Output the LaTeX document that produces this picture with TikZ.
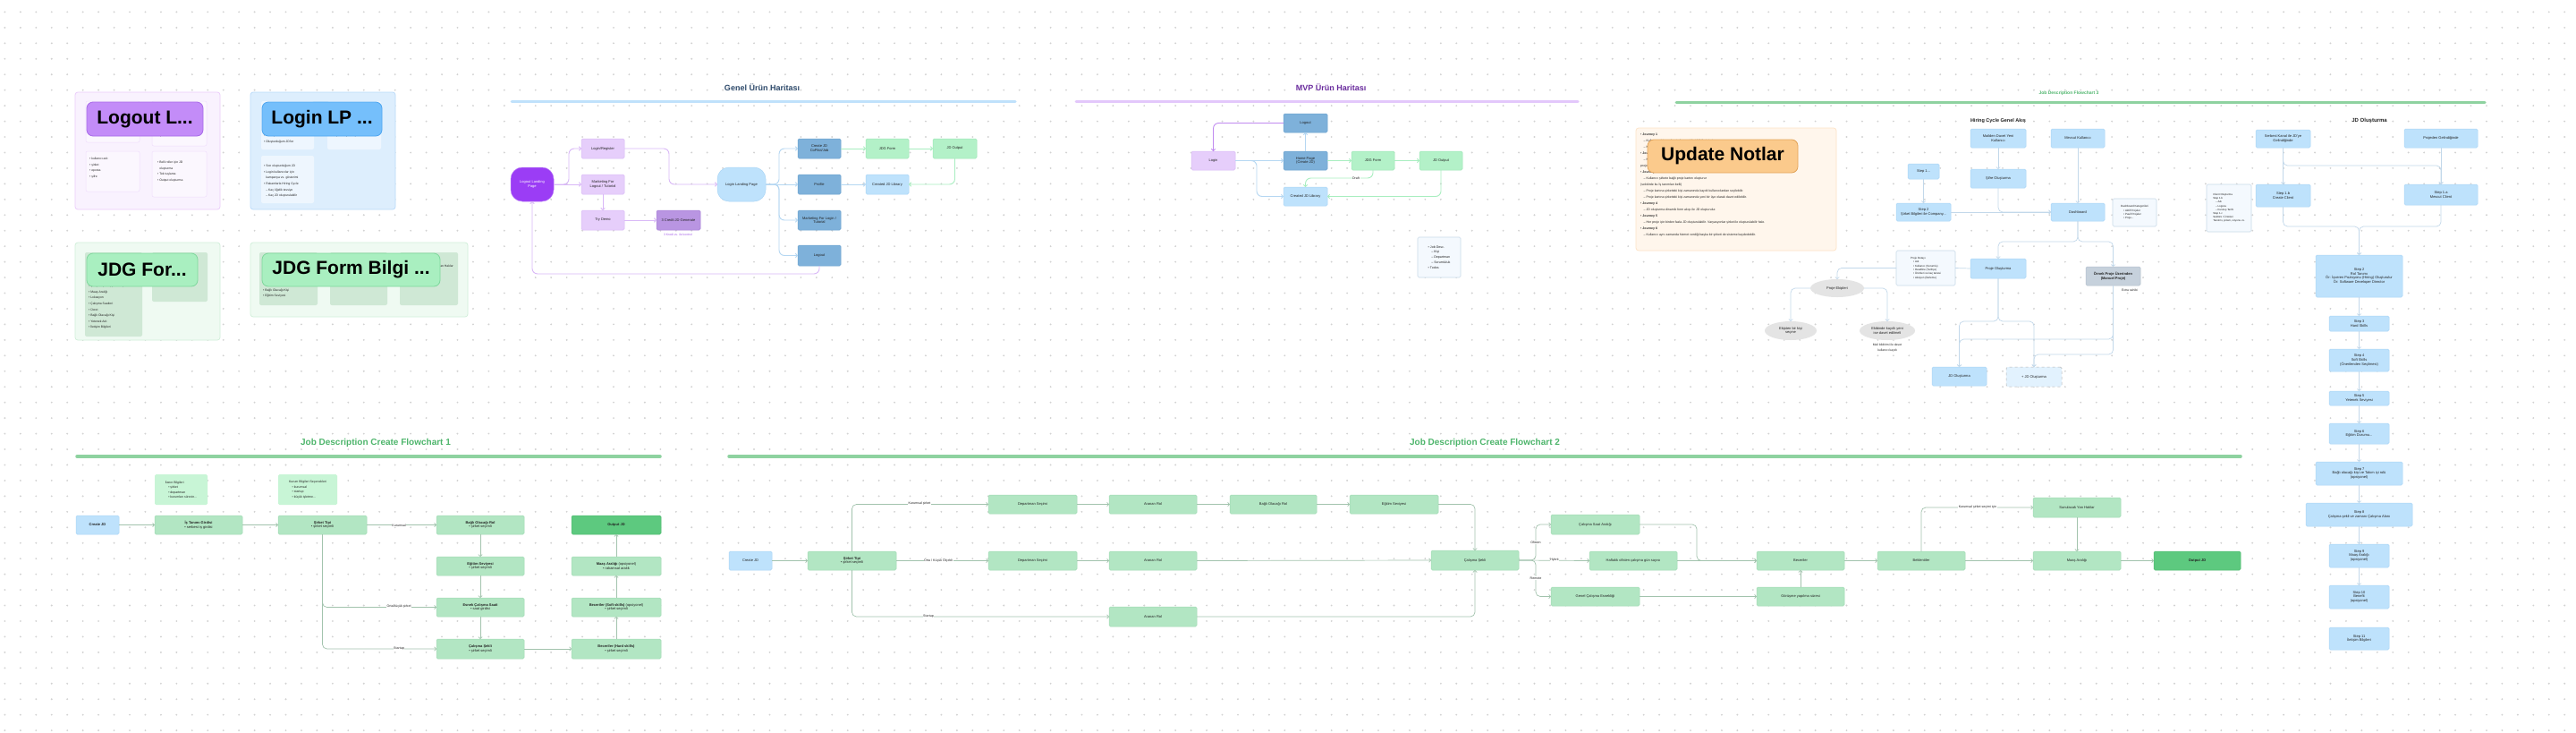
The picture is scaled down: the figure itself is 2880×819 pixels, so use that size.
\documentclass[tikz,border=0pt]{standalone}
\usepackage{fontspec}
\setmainfont{Liberation Sans}
\usetikzlibrary{arrows.meta,shapes.geometric}
\definecolor{dotc}{HTML}{D2D2D2}
\definecolor{gfill}{HTML}{B2E6C3}
\definecolor{gdraw}{HTML}{A0DAB3}
\definecolor{ofill}{HTML}{5DC97F}
\definecolor{odraw}{HTML}{4CB86E}
\definecolor{bfill}{HTML}{BEE2FC}
\definecolor{bdraw}{HTML}{A9D5F6}
\definecolor{sfill}{HTML}{7EB1DA}
\definecolor{sdraw}{HTML}{6AA1CE}
\definecolor{pfill}{HTML}{E6CEFB}
\definecolor{pdraw}{HTML}{D8BAF6}
\definecolor{dpfill}{HTML}{B995E2}
\definecolor{dpdraw}{HTML}{A67ED6}
\definecolor{vpfill}{HTML}{9B3DF5}
\definecolor{vpdraw}{HTML}{B77AF7}
\definecolor{mfill}{HTML}{B3F1C8}
\definecolor{mdraw}{HTML}{9CE6B5}
\definecolor{nfill}{HTML}{F4F9FE}
\definecolor{ndraw}{HTML}{C9DAE8}
\definecolor{gnfill}{HTML}{C8F5D6}
\definecolor{grfill}{HTML}{C6D1DC}
\definecolor{grdraw}{HTML}{B1BECB}
\definecolor{elfill}{HTML}{E4E4E4}
\definecolor{cpfill}{HTML}{F9F2FE}
\definecolor{cpdraw}{HTML}{EBCBFB}
\definecolor{cbfill}{HTML}{DDEEFD}
\definecolor{cbdraw}{HTML}{B9DBFA}
\definecolor{cgfill}{HTML}{EFFAF2}
\definecolor{cgdraw}{HTML}{D0EFD9}
\definecolor{ipfill}{HTML}{FBF7FE}
\definecolor{ipdraw}{HTML}{F0DEFC}
\definecolor{ibfill}{HTML}{EEF6FE}
\definecolor{igfill}{HTML}{CFE8D5}
\definecolor{lpfill}{HTML}{C38CF8}
\definecolor{lpdraw}{HTML}{A86BE8}
\definecolor{lbfill}{HTML}{75BFFB}
\definecolor{lbdraw}{HTML}{4FA6F0}
\definecolor{lgfill}{HTML}{A9EFC0}
\definecolor{lgdraw}{HTML}{7FD79C}
\definecolor{ucfill}{HTML}{FFF6EC}
\definecolor{ucdraw}{HTML}{FDE3C6}
\definecolor{ulfill}{HTML}{FBCA8C}
\definecolor{uldraw}{HTML}{E2A45A}
\definecolor{tblue}{HTML}{2E4A6B}
\definecolor{tpurp}{HTML}{6A2C9E}
\definecolor{tgreen}{HTML}{4DB56B}
\definecolor{lgreen}{HTML}{8ED2A0}
\definecolor{lblue}{HTML}{BFE1FB}
\definecolor{lpurp}{HTML}{E3C7FB}
\definecolor{colG}{HTML}{A2C3AD}
\definecolor{colB}{HTML}{C2D8EA}
\definecolor{colBl}{HTML}{B5D7F2}
\definecolor{colP}{HTML}{D9B8F7}
\definecolor{colPP}{HTML}{C08AF0}
\definecolor{colM}{HTML}{A8EEC0}
\definecolor{ptxt}{HTML}{A259E8}
\definecolor{txt}{HTML}{222222}
\newcommand\nbox[7]{%
  \pgfmathsetmacro\nbw{(#5)-(#3)}%
  \pgfmathsetmacro\nbh{(#6)-(#4)}%
  \node[#2,minimum width=\nbw pt,minimum height=\nbh pt] (#1) at ({((#3)+(#5))/2},{((#4)+(#6))/2}) {#7};}
\begin{document}
\begin{tikzpicture}[x=1pt,y=-1pt,
  nbase/.style={inner sep=0.5pt,outer sep=0pt,align=center,text=txt,font=\fontsize{4}{4.8}\selectfont,rounded corners=1.5pt,line width=0.5pt},
  gbox/.style={nbase,fill=gfill,draw=gdraw},
  obox/.style={nbase,fill=ofill,draw=odraw,font=\fontsize{4}{4.8}\selectfont\bfseries},
  bbox/.style={nbase,fill=bfill,draw=bdraw},
  sbox/.style={nbase,fill=sfill,draw=sdraw},
  pbox/.style={nbase,fill=pfill,draw=pdraw},
  dpbox/.style={nbase,fill=dpfill,draw=dpdraw},
  vpbox/.style={nbase,fill=vpfill,draw=vpdraw,text=white,rounded corners=13pt},
  lbbox/.style={nbase,fill=bfill,draw=bdraw,rounded corners=13pt},
  mintbox/.style={nbase,fill=mfill,draw=mdraw},
  nbx/.style={nbase,fill=nfill,draw=ndraw,align=left,font=\fontsize{3}{4.3}\selectfont,line width=0.6pt},
  gnbx/.style={nbase,fill=gnfill,draw=none,align=left,font=\fontsize{3.5}{5.6}\selectfont},
  grbox/.style={nbase,fill=grfill,draw=grdraw,font=\fontsize{4}{4.8}\selectfont\bfseries},
  ell/.style={nbase,ellipse,fill=elfill,draw=none},
  dbox/.style={nbase,fill=bfill!45,draw=gray!60,dashed},
  card/.style={inner sep=0pt,rounded corners=3pt,line width=0.7pt},
  innerbox/.style={inner sep=0pt,rounded corners=2pt,line width=0.5pt},
  biglab/.style={rounded corners=7pt,line width=0.8pt,inner sep=0pt,text=black,font=\fontsize{21}{24}\selectfont\bfseries},
  lst/.style={inner sep=0pt,align=left,text=txt,font=\fontsize{3.4}{6.6}\selectfont},
  ttl/.style={inner sep=0pt,font=\fontsize{10}{12}\selectfont\bfseries},
  elab/.style={inner sep=0.6pt,fill=white,text=txt,font=\fontsize{3.6}{4.2}\selectfont},
  arr/.style={-{Straight Barb[length=2pt,width=4.5pt]}},
  cnG/.style={draw=colG,line width=0.7pt,rounded corners=5pt,arr},
  cnB/.style={draw=colB,line width=0.7pt,rounded corners=5pt,arr},
  cnBl/.style={draw=colBl,line width=0.9pt,rounded corners=6pt,arr},
  cnP/.style={draw=colP,line width=0.9pt,rounded corners=6pt,arr},
  cnPP/.style={draw=colPP,line width=0.9pt,rounded corners=6pt,arr},
  cnM/.style={draw=colM,line width=0.9pt,rounded corners=6pt,arr},
]
\useasboundingbox (0,0) rectangle (2880,819);
\fill[white] (0,0) rectangle (2880,819);
\foreach \i in {0,...,164}{\fill[dotc] \foreach \j in {0,...,46}{(5.4+17.45*\i,13.4+17.45*\j) circle[radius=1.05pt]};}

% ---------------- top-left cards ----------------
\nbox{cLO}{card,fill=cpfill,draw=cpdraw}{84}{103}{246}{234}{}
\nbox{lo1}{innerbox,fill=ipfill,draw=ipdraw}{96}{113}{156}{159}{}
\nbox{lo2}{innerbox,fill=ipfill,draw=ipdraw}{170}{113}{231}{163}{}
\nbox{lo3}{innerbox,fill=ipfill,draw=ipdraw}{96}{169}{156}{214}{}
\nbox{lo4}{innerbox,fill=ipfill,draw=ipdraw}{170}{169}{231}{220}{}
\node[lst,anchor=north west] (lo2t) at (176,150) {• Şirketlerde};
\node[lst,anchor=north west] (lo3t) at (100,176) {• kullanıcı adı\\• şirket\\• eposta\\• şifre};
\node[lst,anchor=north west] (lo4t) at (176,180) {• Belli roller için JD\\\phantom{• }oluşturma\\• Tek tuşlama\\• Output oluşturma};
\nbox{loL}{biglab,fill=lpfill,draw=lpdraw}{97}{114}{227}{152}{Logout L...}

\nbox{cLI}{card,fill=cbfill,draw=cbdraw}{280}{103}{442}{234}{}
\nbox{li1}{innerbox,fill=ibfill,draw=none}{292}{113}{351}{167}{}
\nbox{li2}{innerbox,fill=ibfill,draw=none}{366}{113}{426}{167}{}
\nbox{li3}{innerbox,fill=ibfill,draw=none}{292}{174}{351}{227}{}
\node[lst,anchor=north west] (li1t) at (295,150) {• Yeni işlem ekle\\• Oluşturduğum JD'ler};
\node[lst,anchor=north west] (li2t) at (371,150) {Müşteri hayat başlama};
\node[lst,anchor=north west] (li3t) at (295,184) {• Son oluşturduğum JD\\• Login kullanıcılar için\\\phantom{• }kampanya vs. gösterimi\\• Rakamlarla Hiring Cycle\\\phantom{• }– Kaç öğelik tavsiye\\\phantom{• }– Kaç JD oluşturulabilir};
\nbox{liL}{biglab,fill=lbfill,draw=lbdraw}{293}{114}{427}{152}{Login LP ...}

\nbox{cJF}{card,fill=cgfill,draw=cgdraw}{84}{271}{246}{380}{}
\nbox{jf1}{innerbox,fill=igfill,draw=none}{95}{282}{159}{376}{}
\nbox{jf2}{innerbox,fill=igfill,draw=none}{170}{282}{232}{337}{}
\node[lst,anchor=north west] (jf1t) at (99,318) {• Çalışma Şekli (iş tanımı)\\• Maaş Aralığı\\• Lokasyon\\• Çalışma Saatleri\\• Ücret\\• Bağlı Olacağı Kişi\\• Yetenek Adı\\• İletişim Bilgileri};
\nbox{jfL}{biglab,fill=lgfill,draw=lgdraw}{97}{283}{221}{320}{JDG For...}

\nbox{cJB}{card,fill=cgfill,draw=cgdraw}{280}{271}{523}{354}{}
\nbox{jb1}{innerbox,fill=igfill,draw=none}{290}{282}{355}{341}{}
\nbox{jb2}{innerbox,fill=igfill,draw=none}{369}{282}{433}{341}{}
\nbox{jb3}{innerbox,fill=igfill,draw=none}{447}{282}{512}{341}{}
\node[lst,anchor=north west] (jb1t) at (294,316) {• Yetenek Adı\\• Bağlı Olacağı Kişi\\• Eğitim Seviyesi};
\node[lst,anchor=north east] (jb3t) at (507,296) {• Yan Haklar};
\nbox{jbL}{biglab,fill=lgfill,draw=lgdraw}{293}{283}{492}{320}{JDG Form Bilgi ...}

% ---------------- Genel Urun Haritasi ----------------
\node[ttl,text=tblue,font=\fontsize{9}{11}\selectfont\bfseries] (gT) at (852,98) {Genel Ürün Haritası};
\draw[lblue,line width=3pt,line cap=round] (572,113) -- (1135,113);
\nbox{gLLP}{vpbox}{571}{187}{619}{225}{Logout Landing\\Page}
\nbox{gLR}{pbox}{650}{155}{698}{177}{Login/Register}
\nbox{gMK}{pbox}{650}{195}{698}{217}{Marketing For\\Logout / Tutorial}
\nbox{gTD}{pbox}{650}{235}{698}{257}{Try Demo}
\nbox{gCR}{dpbox}{734}{235}{783}{257}{3 Credit JD Generate}
\node[inner sep=0pt,text=ptxt,font=\fontsize{3.4}{4}\selectfont] (gCRn) at (758,262) {3 Kredi vs. ile kontrol};
\nbox{gLIP}{lbbox}{802}{187}{856}{225}{Login Landing Page}
\nbox{gCJ}{sbox}{892}{155}{940}{177}{Create JD\\CoPilot/Job}
\nbox{gPR}{sbox}{892}{195}{940}{217}{Profile}
\nbox{gML}{sbox}{892}{235}{940}{257}{Marketing For Login /\\Tutorial}
\nbox{gLO}{sbox}{892}{274}{940}{297}{Logout}
\nbox{gJF}{mintbox}{968}{155}{1016}{177}{JDG Form}
\nbox{gJO}{mintbox}{1043}{155}{1092}{177}{JD Output}
\nbox{gLib}{bbox}{968}{195}{1016}{217}{Created JD Library}
\draw[cnP] (gLLP.east) -- ++(17,0) |- (gLR.west);
\draw[cnP] (gLLP.east) -- (gMK.west);
\draw[cnP] (gMK.south) -- (gTD.north);
\draw[cnP] (gTD.east) -- (gCR.west);
\draw[cnP] (gLR.east) -- ++(50,0) |- (gLIP.west);
\draw[cnBl] (gLIP.east) -- ++(15,0) |- (gCJ.west);
\draw[cnBl] (gLIP.east) -- (gPR.west);
\draw[cnBl] (gLIP.east) -- ++(15,0) |- (gML.west);
\draw[cnBl] (gLIP.east) -- ++(15,0) |- (gLO.west);
\draw[cnM] (gCJ.east) -- (gJF.west);
\draw[cnM] (gJF.east) -- (gJO.west);
\draw[cnM] (gJO.south) |- (gLib.east);
\draw[cnBl] (gPR.east) -- (gLib.west);
\draw[cnP] (gLO.south) -- ++(0,9) -| (gLLP.south);

% ---------------- MVP ----------------
\node[ttl,text=tpurp,font=\fontsize{9}{11}\selectfont\bfseries] (mT) at (1488,98) {MVP Ürün Haritası};
\draw[lpurp,line width=3pt,line cap=round] (1203,113) -- (1764,113);
\nbox{mLO}{sbox}{1435}{127}{1484}{148}{Logout}
\nbox{mLI}{pbox}{1332}{169}{1381}{190}{Login}
\nbox{mHP}{sbox}{1435}{169}{1484}{190}{Home Page\\(Create JD)}
\nbox{mJF}{mintbox}{1511}{169}{1559}{190}{JDG Form}
\nbox{mJO}{mintbox}{1587}{169}{1635}{190}{JD Output}
\nbox{mLib}{bbox}{1435}{209}{1484}{230}{Created JD Library}
\nbox{mN}{nbx,font=\fontsize{3.6}{5.8}\selectfont}{1585}{265}{1633}{310}{• Job Desc.\\\quad – Kişi\\\quad – Departman\\\quad – Sorumluluk\\• Todos}
\draw[cnPP] (mLO.west) -| (mLI.north);
\draw[cnBl] (mHP.north) -- (mLO.south);
\draw[cnBl] (mLI.east) -- (mHP.west);
\draw[cnBl] (mLI.east) -- ++(24,0) |- (mLib.west);
\draw[cnM] (mHP.east) -- (mJF.west);
\draw[cnM] (mJF.east) -- (mJO.west);
\draw[cnM] (mJF.south) -- ++(0,9) -| (mLib.north);
\draw[cnM] (mJO.south) |- (mLib.east);
\node[elab] (mDraft) at (1516,199) {Draft};

% ---------------- Flowchart 3 header & Update notes ----------------
\node[ttl,text=tgreen,font=\fontsize{5}{6}\selectfont\bfseries] (f3T) at (2313,104) {Job Description Flowchart 3};
\draw[lgreen,line width=3pt,line cap=round] (1874,114) -- (2778,114);
\nbox{uC}{card,fill=ucfill,draw=ucdraw}{1829}{143}{2053}{280}{}
\node[inner sep=0pt,anchor=north west,align=left,text=txt,font=\fontsize{3.5}{7}\selectfont] (uT) at (1834,149) {%
• \textbf{Journey 1}\\
\quad – Kullanıcı sisteme kayıt olur ve şirket bilgilerini girer.\\
\quad – Kullanıcı sistemi deneme amaçlı kullanabilir.\\
• \textbf{Journey 2}\\
\quad – Kullanıcı şirketini kaydederken hem kendini hem şirketini tanımlar; hem de\\
proje kartını oluşturabilir.\\
• \textbf{Journey 3}\\
\quad – Kullanıcı şirkete bağlı proje kartını oluşturur\\
(sektörde bu İş tanımları belli)\\
\quad – Proje kartına şirketteki kişi zamanında kayıtlı kullanıcılardan seçilebilir.\\
\quad – Proje kartına şirketteki kişi zamanında yeni bir üye olarak davet edilebilir.\\
• \textbf{Journey 4}\\
\quad – JD oluşturma dinamik form akışı ile JD oluşturulur.\\
• \textbf{Journey 5}\\
\quad – Her proje için birden fazla JD oluşturulabilir. Varyasyonlar şirket ile oluşturulabilir hale.\\
• \textbf{Journey 6}\\
\quad – Kullanıcı aynı zamanda hizmet verdiği başka bir şirketi de sisteme kaydedebilir.};
\nbox{uL}{biglab,fill=ulfill,draw=uldraw}{1842}{156}{2010}{193}{Update Notlar}

% ---------------- Hiring Cycle ----------------
\node[ttl,text=txt,font=\fontsize{5.5}{6.5}\selectfont\bfseries] (hT) at (2234,135) {Hiring Cycle Genel Akış};
\nbox{hMD}{bbox}{2203}{144}{2265}{165}{Mailden Davet Yeni\\Kullanıcı}
\nbox{hMK}{bbox}{2293}{144}{2353}{165}{Mevcut Kullanıcı}
\nbox{hS1}{bbox}{2133}{183}{2168}{200}{Step 1...}
\nbox{hSO}{bbox}{2203}{189}{2265}{210}{Şifre Oluşturma}
\nbox{hS2}{bbox}{2120}{227}{2181}{247}{Step 2\\Şirket Bilgileri ile Company...}
\nbox{hDB}{bbox}{2293}{227}{2353}{247}{Dashboard}
\nbox{hDK}{nbx}{2362}{222}{2411}{253}{Dashboard Kategorileri\\\quad• Aktif Projeler\\\quad• Pasif Projeler\\\quad• Proje...}
\nbox{hPD}{nbx}{2120}{280}{2186}{319}{Proje Detayı\\\quad• Adı\\\quad• Kullanıcı (Sorumlu)\\\quad• Deadline (Tarihçe)\\\quad• Ürünleri ve kaç tanesi\\\quad• Aksiyon (İlerleme)}
\nbox{hPO}{bbox}{2203}{289}{2265}{311}{Proje Oluşturma}
\nbox{hOP}{grbox}{2332}{298}{2393}{319}{Örnek Proje Üzerinden\\(Manuel Proje)}
\node[inner sep=0pt,text=txt,font=\fontsize{3.4}{4}\selectfont] (hOPn) at (2381,324) {Extra sahibi};
\nbox{hPE}{ell}{2024}{312}{2084}{332}{Proje Ekipleri}
\nbox{hE1}{ell}{1973}{359}{2031}{380}{Ekipten bir kişi\\seçme}
\nbox{hE2}{ell}{2079}{359}{2141}{380}{Ekibinde kayıtlı yeni\\ise davet edilmeli}
\node[inner sep=0pt,align=center,text=txt,font=\fontsize{3.4}{6}\selectfont] (hE2n) at (2110,389) {Mail bildirimi ile davet\\kullanıcı kaydı};
\nbox{hJD}{bbox}{2160}{410}{2221}{431}{JD Oluşturma}
\nbox{hJP}{dbox}{2243}{410}{2305}{432}{+ JD Oluşturma}
\draw[cnB] (hMD.south) -- (hSO.north);
\draw[cnB] (hS1.south) -- (hS2.north);
\draw[cnB] (hS2.east) -- (hDB.west);
\draw[cnB] (hSO.south) |- (hDB.west);
\draw[cnB] (hMK.south) -- (hDB.north);
\draw[cnB] (hDB.south) -- ++(0,23) -| (hPO.north);
\draw[cnB] (hDB.south) -- ++(0,23) -| (hOP.north);
\draw[draw=colB,line width=0.7pt] (hPD.east) -- (hPO.west);
\draw[cnB] (hPD.west) -| (hPE.north);
\draw[cnB] (hPE.west) -| (hE1.north);
\draw[cnB] (hPE.east) -| (hE2.north);
\draw[cnB] (hPO.south) -- ++(0,48) -| (hJD.north);
\draw[cnB] (hPO.south) -- ++(0,48) -| (hJP.north);
\draw[cnB] (hOP.south) -- ++(0,60) -| (hJD.north);
\draw[cnB] (hOP.south) -- ++(0,77) -| (hJP.north);

% ---------------- JD Olusturma ----------------
\node[ttl,text=txt,font=\fontsize{6}{7}\selectfont\bfseries] (jT) at (2649,135) {JD Oluşturma};
\nbox{jSK}{bbox}{2522}{145}{2583}{165}{Serbest Kanal ile JD'ye\\Gelindiğinde}
\nbox{jPG}{bbox}{2688}{144}{2770}{165}{Projeden Gelindiğinde}
\nbox{jS1b}{bbox}{2522}{206}{2583}{231}{Step 1.b\\Create Client}
\nbox{jS1a}{bbox}{2688}{206}{2770}{229}{Step 1.a\\Mevcut Client}
\nbox{jCO}{nbx,font=\fontsize{2.9}{4.2}\selectfont}{2467}{206}{2517}{259}{Client Oluşturma\\Step 1.b\\\quad – Adı\\\quad – Logosu\\\quad – Kuruluş Tarihi\\Step 1.c\\Sektörü / Ürünleri\\Tanıtımı, şirketi, vizyonu vs.}
\nbox{jS2}{bbox}{2589}{285}{2686}{332}{Step 2\\Rol Tanımı\\Ör: İşveren Pozisyonu (Hiring) Oluşturulur\\Ör: Software Developer Director}
\nbox{jS3}{bbox}{2604}{353}{2671}{370}{Step 3\\Hard Skills}
\nbox{jS4}{bbox}{2604}{390}{2671}{415}{Step 4\\Soft Skills\\(Önerilenden Seçilmesi)}
\nbox{jS5}{bbox}{2604}{437}{2671}{453}{Step 5\\Yetenek Seviyesi}
\nbox{jS6}{bbox}{2604}{473}{2671}{496}{Step 6\\Eğitim Durumu...}
\nbox{jS7}{bbox}{2589}{516}{2686}{542}{Step 7\\Bağlı olacağı kişi ve Takım içi rolü\\(opsiyonel)}
\nbox{jS8}{bbox}{2578}{562}{2697}{588}{Step 8\\Çalışma şekli ve zamanı Çalışma Alanı}
\nbox{jS9}{bbox}{2604}{608}{2671}{634}{Step 9\\Maaş Aralığı\\(opsiyonel)}
\nbox{jS10}{bbox}{2604}{654}{2671}{680}{Step 10\\Benefit\\(opsiyonel)}
\nbox{jS11}{bbox}{2604}{701}{2671}{726}{Step 11\\İletişim Bilgileri}
\draw[cnB] (jSK.south) -- (jS1b.north);
\draw[cnB] (jSK.south) -- ++(0,20) -| (jS1a.north);
\draw[cnB] (jPG.south) -- (jS1a.north);
\draw[cnB] (jS1b.south) -- ++(0,22) -| (jS2.north);
\draw[cnB] (jS1a.south) -- ++(0,24) -| (jS2.north);
\draw[cnB] (jS2.south) -- (jS3.north);
\draw[cnB] (jS3.south) -- (jS4.north);
\draw[cnB] (jS4.south) -- (jS5.north);
\draw[cnB] (jS5.south) -- (jS6.north);
\draw[cnB] (jS6.south) -- (jS7.north);
\draw[cnB] (jS7.south) -- (jS8.north);
\draw[cnB] (jS8.south) -- (jS9.north);
\draw[cnB] (jS9.south) -- (jS10.north);

% ---------------- Flowchart 1 ----------------
\node[ttl,text=tgreen] (f1T) at (420,495) {Job Description Create Flowchart 1};
\draw[lgreen,line width=3.5pt,line cap=round] (86,510) -- (738,510);
\nbox{f1N1}{gnbx}{173}{530}{232}{564}{İlanın Bilgileri\\\quad• şirket\\\quad• departman\\\quad• kurumları sürecin...}
\nbox{f1N2}{gnbx}{311}{530}{377}{564}{Kurum Bilgileri Seçenekleri\\\quad• kurumsal\\\quad• startup\\\quad• küçük işletme...}
\nbox{f1CJ}{bbox,font=\fontsize{4}{4.8}\selectfont\bfseries}{85}{576}{133}{597}{Create JD}
\nbox{f1IT}{gbox}{173}{576}{271}{597}{\textbf{İş Tanımı Girdisi}\\• serbest iş girdisi}
\nbox{f1ST}{gbox}{311}{576}{410}{597}{\textbf{Şirket Tipi}\\• şirket seçimli}
\nbox{f1BR}{gbox}{488}{576}{586}{597}{\textbf{Bağlı Olacağı Rol}\\• şirket seçimli}
\nbox{f1ES}{gbox}{488}{622}{586}{643}{\textbf{Eğitim Seviyesi}\\• şirket seçimli}
\nbox{f1CS}{gbox}{488}{668}{586}{689}{\textbf{Esnek Çalışma Saati}\\• saat girdisi}
\nbox{f1CW}{gbox}{488}{714}{586}{736}{\textbf{Çalışma Şekli}\\• şirket seçimli}
\nbox{f1OJ}{obox}{639}{576}{739}{597}{Output JD}
\nbox{f1MA}{gbox}{639}{622}{739}{643}{\textbf{Maaş Aralığı} (opsiyonel)\\• rakamsal aralık}
\nbox{f1SS}{gbox}{639}{668}{739}{689}{\textbf{Beceriler (Soft skills)} (opsiyonel)\\• şirket seçimli}
\nbox{f1HS}{gbox}{639}{714}{739}{736}{\textbf{Beceriler (Hard skills)}\\• şirket seçimli}
\draw[cnG] (f1CJ.east) -- (f1IT.west);
\draw[cnG] (f1IT.east) -- (f1ST.west);
\draw[cnG] (f1ST.east) -- (f1BR.west);
\draw[cnG] (f1ST.south) |- (f1CS.west);
\draw[cnG] (f1ST.south) |- (f1CW.west);
\draw[cnG] (f1BR.south) -- (f1ES.north);
\draw[cnG] (f1ES.south) -- (f1CS.north);
\draw[cnG] (f1CS.south) -- (f1CW.north);
\draw[cnG] (f1CW.east) -- (f1HS.west);
\draw[cnG] (f1HS.north) -- (f1SS.south);
\draw[cnG] (f1SS.north) -- (f1MA.south);
\draw[cnG] (f1MA.north) -- (f1OJ.south);
\node[elab] (f1L1) at (446,587) {Kurumsal};
\node[elab] (f1L2) at (446,678) {Orta/küçük şirket};
\node[elab] (f1L3) at (446,725) {Startup};

% ---------------- Flowchart 2 ----------------
\node[ttl,text=tgreen] (f2T) at (1660,495) {Job Description Create Flowchart 2};
\draw[lgreen,line width=3.5pt,line cap=round] (815,510) -- (2505,510);
\nbox{f2CJ}{bbox}{815}{616}{863}{637}{Create JD}
\nbox{f2ST}{gbox}{903}{616}{1002}{637}{\textbf{Şirket Tipi}\\• şirket seçimli}
\nbox{f2D1}{gbox}{1105}{553}{1204}{574}{Departman Seçimi}
\nbox{f2A1}{gbox}{1240}{553}{1338}{574}{Aranan Rol}
\nbox{f2B1}{gbox}{1375}{553}{1472}{574}{Bağlı Olacağı Rol}
\nbox{f2E1}{gbox}{1509}{553}{1608}{574}{Eğitim Seviyesi}
\nbox{f2D2}{gbox}{1105}{616}{1204}{637}{Departman Seçimi}
\nbox{f2A2}{gbox}{1240}{616}{1338}{637}{Aranan Rol}
\nbox{f2A3}{gbox}{1240}{678}{1338}{700}{Aranan Rol}
\nbox{f2CW}{gbox}{1600}{615}{1698}{637}{Çalışma Şekli}
\nbox{f2SA}{gbox}{1734}{575}{1833}{597}{Çalışma Saat Aralığı}
\nbox{f2HF}{gbox}{1777}{616}{1875}{637}{Haftalık ofisten çalışma gün sayısı}
\nbox{f2GE}{gbox}{1734}{656}{1833}{677}{Genel Çalışma Esnekliği}
\nbox{f2BC}{gbox}{1964}{616}{2062}{637}{Beceriler}
\nbox{f2GS}{gbox}{1964}{656}{2062}{677}{Görüşme yapılma süresi}
\nbox{f2BK}{gbox}{2099}{616}{2197}{637}{Beklentiler}
\nbox{f2YH}{gbox}{2273}{556}{2371}{578}{Sunulacak Yan Haklar}
\nbox{f2MA}{gbox}{2273}{616}{2371}{637}{Maaş Aralığı}
\nbox{f2OJ}{obox}{2408}{616}{2505}{637}{Output JD}
\draw[cnG] (f2CJ.east) -- (f2ST.west);
\draw[cnG] (f2ST.north) |- (f2D1.west);
\draw[cnG] (f2ST.east) -- (f2D2.west);
\draw[cnG] (f2ST.south) |- (f2A3.west);
\draw[cnG] (f2D1.east) -- (f2A1.west);
\draw[cnG] (f2A1.east) -- (f2B1.west);
\draw[cnG] (f2B1.east) -- (f2E1.west);
\draw[cnG] (f2E1.east) -| (f2CW.north);
\draw[cnG] (f2D2.east) -- (f2A2.west);
\draw[cnG] (f2A2.east) -- (f2CW.west);
\draw[cnG] (f2A3.east) -| (f2CW.south);
\draw[cnG] (f2CW.east) -- ++(19,0) |- (f2SA.west);
\draw[cnG] (f2CW.east) -- (f2HF.west);
\draw[cnG] (f2CW.east) -- ++(19,0) |- (f2GE.west);
\draw[cnG] (f2SA.east) -- ++(64,0) |- (f2BC.west);
\draw[cnG] (f2HF.east) -- (f2BC.west);
\draw[cnG] (f2GE.east) -- (f2GS.west);
\draw[cnG] (f2GS.north) -- (f2BC.south);
\draw[cnG] (f2BC.east) -- (f2BK.west);
\draw[cnG] (f2BK.east) -- (f2MA.west);
\draw[cnG] (f2BK.north) |- (f2YH.west);
\draw[cnG] (f2YH.south) -- (f2MA.north);
\draw[cnG] (f2MA.east) -- (f2OJ.west);
\node[elab] (f2L1) at (1028,563) {Kurumsal şirket};
\node[elab] (f2L2) at (1049,626) {Orta / Küçük Ölçekli};
\node[elab] (f2L3) at (1038,689) {Startup};
\node[elab] (f2L4) at (1717,606) {Ofisten};
\node[elab] (f2L5) at (1738,626) {Hybrit};
\node[elab] (f2L6) at (1717,646) {Remote};
\node[elab] (f2L7) at (2211,567) {Kurumsal şirket seçimi için};
\end{tikzpicture}
\end{document}
